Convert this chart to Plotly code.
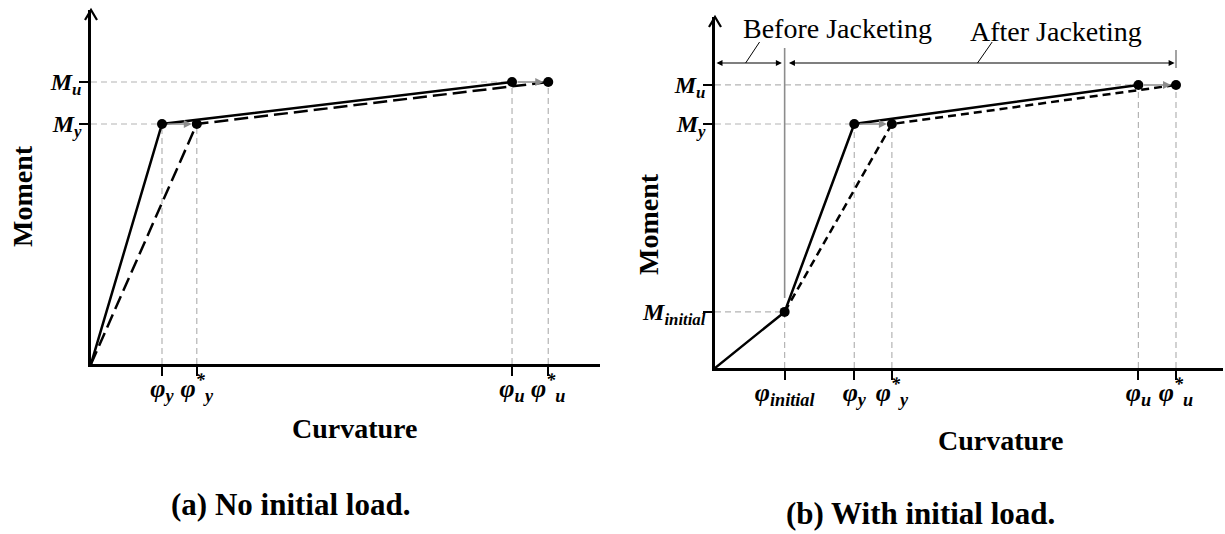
import plotly.graph_objects as go

# ---------------- data ----------------
# (a) no initial load: curvature values (normalised by phi_y) and moments (normalised by M_y)
phi_a_names = ["phi_y", "phi*_y", "phi_u", "phi*_u"]
phi_a = [1.0, 1.49, 5.93, 6.44]
m_a_names = ["M_y", "M_u"]
m_a = [1.0, 1.175]

# (b) with initial load
phi_b_names = ["phi_initial", "phi_y", "phi*_y", "phi_u", "phi*_u"]
phi_b = [0.50, 1.0, 1.27, 3.04, 3.31]
m_b_names = ["M_initial", "M_y", "M_u"]
m_b = [0.23, 1.0, 1.16]

phi_a_text = ["φ<sub>y</sub>", "φ<sup>*</sup><sub>y</sub>", "φ<sub>u</sub>", "φ<sup>*</sup><sub>u</sub>"]
m_a_text = ["M<sub>y</sub>", "M<sub>u</sub>"]
phi_b_text = ["φ<sub>initial</sub>", "φ<sub>y</sub>", "φ<sup>*</sup><sub>y</sub>",
              "φ<sub>u</sub>", "φ<sup>*</sup><sub>u</sub>"]
m_b_text = ["M<sub>initial</sub>", "M<sub>y</sub>", "M<sub>u</sub>"]

# ---------------- layout geometry ----------------
W, H = 1225, 534
SERIF = "Liberation Serif, Times New Roman, serif"
BLACK = "#000000"
GREY = "#8c8c8c"
GUIDE = "#b4b4b4"


def px_x(p):
    return p / W


def px_y(p):
    return 1 - p / H


def bi(s):
    return "<b><i>" + s + "</i></b>"


fig = go.Figure()

# ---- panel (a) curves ----
ya, yu = m_a
fig.add_trace(go.Scatter(x=[0, phi_a[1], phi_a[3]], y=[0, ya, yu], mode="lines",
                         line=dict(color=BLACK, width=2.5, dash="14px,6px"),
                         xaxis="x", yaxis="y", hoverinfo="skip"))
fig.add_trace(go.Scatter(x=[0, phi_a[0], phi_a[2]], y=[0, ya, yu], mode="lines",
                         line=dict(color=BLACK, width=2.5),
                         xaxis="x", yaxis="y", hoverinfo="skip"))
fig.add_trace(go.Scatter(x=phi_a, y=[ya, ya, yu, yu], mode="markers",
                         marker=dict(color=BLACK, size=10),
                         xaxis="x", yaxis="y", hoverinfo="skip"))

# ---- panel (b) curves ----
bi_, by, bu = m_b
fig.add_trace(go.Scatter(x=[phi_b[0], phi_b[2], phi_b[4]], y=[bi_, by, bu], mode="lines",
                         line=dict(color=BLACK, width=2.5, dash="8px,5px"),
                         xaxis="x2", yaxis="y2", hoverinfo="skip"))
fig.add_trace(go.Scatter(x=[0, phi_b[0], phi_b[1], phi_b[3]], y=[0, bi_, by, bu], mode="lines",
                         line=dict(color=BLACK, width=2.5),
                         xaxis="x2", yaxis="y2", hoverinfo="skip"))
fig.add_trace(go.Scatter(x=phi_b, y=[bi_, by, by, bu, bu], mode="markers",
                         marker=dict(color=BLACK, size=10),
                         xaxis="x2", yaxis="y2", hoverinfo="skip"))

shapes = []
annotations = []


def guide(x0, y0, x1, y1, xr, yr):
    shapes.append(dict(type="line", x0=x0, y0=y0, x1=x1, y1=y1, xref=xr, yref=yr,
                       line=dict(color=GUIDE, width=1.2, dash="6px,4px"), layer="below"))


# guide lines (a)
guide(0, ya, phi_a[0], ya, "x", "y")
guide(0, yu, phi_a[2], yu, "x", "y")
guide(phi_a[0], 0, phi_a[0], ya, "x", "y")
guide(phi_a[1], 0, phi_a[1], ya, "x", "y")
guide(phi_a[2], 0, phi_a[2], yu, "x", "y")
guide(phi_a[3], 0, phi_a[3], yu, "x", "y")

# guide lines (b)
guide(0, bi_, phi_b[0], bi_, "x2", "y2")
guide(0, by, phi_b[1], by, "x2", "y2")
guide(0, bu, phi_b[3], bu, "x2", "y2")
guide(phi_b[0], 0, phi_b[0], bi_, "x2", "y2")
guide(phi_b[1], 0, phi_b[1], by, "x2", "y2")
guide(phi_b[2], 0, phi_b[2], by, "x2", "y2")
guide(phi_b[3], 0, phi_b[3], bu, "x2", "y2")
guide(phi_b[4], 0, phi_b[4], bu, "x2", "y2")


def shift_arrow(x0, x1, y, xr, yr):
    annotations.append(dict(x=x1, y=y, ax=x0, ay=y, xref=xr, yref=yr, axref=xr, ayref=yr,
                            text="", showarrow=True, arrowhead=2, arrowsize=1.0,
                            arrowwidth=1.6, arrowcolor=GREY, standoff=5, startstandoff=4))


# grey shift arrows from the original to the jacketed yield / ultimate points
shift_arrow(phi_a[0], phi_a[1], ya, "x", "y")
shift_arrow(phi_a[2], phi_a[3], yu, "x", "y")
shift_arrow(phi_b[1], phi_b[2], by, "x2", "y2")
shift_arrow(phi_b[3], phi_b[4], bu, "x2", "y2")

# axis ranges (data units)
xa_max = 509 / 71
ya_max = 354 / 240
xb_max = 507 / 139
yb_max = 351 / 244

# open chevron arrowheads at the top of the moment axes (paper-anchored so they are not clipped)
for ax_px, top_px in ((91, 10), (715, 17)):
    shapes.append(dict(type="path", xref="paper", yref="paper", xsizemode="pixel", ysizemode="pixel",
                       xanchor=px_x(ax_px), yanchor=px_y(top_px), path="M -6,-10 L 0,0 L 6,-10",
                       line=dict(color=BLACK, width=2.2)))

# jacketing stage markers in panel (b)
band_y = 1.25
shapes.append(dict(type="line", x0=phi_b[0], x1=phi_b[0], y0=(368 - 298) / 244, y1=(368 - 48) / 244,
                   xref="x2", yref="y2", line=dict(color=GREY, width=1.6)))
shapes.append(dict(type="line", x0=phi_b[4], x1=phi_b[4], y0=(368 - 68) / 244, y1=(368 - 50) / 244,
                   xref="x2", yref="y2", line=dict(color=GREY, width=1.6)))
for x0, x1 in ((0.0, phi_b[0] - 0.02), (phi_b[0] + 0.02, phi_b[4] - 0.01)):
    annotations.append(dict(x=x1, y=band_y, ax=x0, ay=band_y, xref="x2", yref="y2",
                            axref="x2", ayref="y2", text="", showarrow=True,
                            arrowhead=2, arrowside="end+start", arrowsize=1.0,
                            arrowwidth=1.2, arrowcolor=BLACK))
# leader lines to the stage labels
shapes.append(dict(type="line", x0=0.22, y0=band_y, x1=0.32, y1=1.336, xref="x2", yref="y2",
                   line=dict(color=BLACK, width=1)))
shapes.append(dict(type="line", x0=1.885, y0=band_y, x1=1.99, y1=1.336, xref="x2", yref="y2",
                   line=dict(color=BLACK, width=1)))
stage_font = dict(family=SERIF, size=28, color=BLACK)
annotations.append(dict(x=px_x(741), y=px_y(28), xref="paper", yref="paper", xanchor="left",
                        yanchor="middle", text="Before Jacketing", showarrow=False, font=stage_font))
annotations.append(dict(x=px_x(968), y=px_y(31), xref="paper", yref="paper", xanchor="left",
                        yanchor="middle", text="After Jacketing", showarrow=False, font=stage_font))

# axis titles and captions
title_font = dict(family=SERIF, size=28, color=BLACK)
for x, y, t, ang in ((22, 196, "Moment", -90), (648, 224, "Moment", -90),
                     (354, 428, "Curvature", 0), (1000, 440, "Curvature", 0)):
    annotations.append(dict(x=px_x(x), y=px_y(y), xref="paper", yref="paper", text="<b>" + t + "</b>",
                            showarrow=False, textangle=ang, font=title_font,
                            xanchor="center", yanchor="middle"))
cap_font = dict(family=SERIF, size=31, color=BLACK)
annotations.append(dict(x=px_x(290), y=px_y(504), xref="paper", yref="paper", xanchor="center",
                        yanchor="middle", text="<b>(a) No initial load.</b>", showarrow=False,
                        font=cap_font))
annotations.append(dict(x=px_x(920), y=px_y(513), xref="paper", yref="paper", xanchor="center",
                        yanchor="middle", text="<b>(b) With initial load.</b>", showarrow=False,
                        font=cap_font))

axis_common = dict(showgrid=False, zeroline=False, showline=True, linecolor=BLACK, linewidth=2.5,
                   ticks="outside", ticklen=9, tickwidth=2, tickcolor=BLACK, fixedrange=True)
xtick = dict(tickfont=dict(family=SERIF, size=26, color=BLACK), ticklabelstandoff=-10)
ytick = dict(tickfont=dict(family=SERIF, size=24, color=BLACK), ticklabelstandoff=-7)

fig.update_layout(
    width=W, height=H, margin=dict(l=0, r=0, t=0, b=0),
    paper_bgcolor="white", plot_bgcolor="white", showlegend=False,
    xaxis=dict(domain=[px_x(91), px_x(600)], range=[0, xa_max], anchor="y",
               tickvals=phi_a, ticktext=[bi(t) for t in phi_a_text], **axis_common, **xtick),
    yaxis=dict(domain=[px_y(364), px_y(10)], range=[0, ya_max], anchor="x",
               tickvals=m_a, ticktext=[bi(t) for t in m_a_text], **axis_common, **ytick),
    xaxis2=dict(domain=[px_x(715), px_x(1223)], range=[0, xb_max], anchor="y2",
                tickvals=phi_b, ticktext=[bi(t) for t in phi_b_text], **axis_common, **xtick),
    yaxis2=dict(domain=[px_y(368), px_y(17)], range=[0, yb_max], anchor="x2",
                tickvals=m_b, ticktext=[bi(t) for t in m_b_text], **axis_common, **ytick),
    shapes=shapes, annotations=annotations,
)

fig.write_html("out.html")
